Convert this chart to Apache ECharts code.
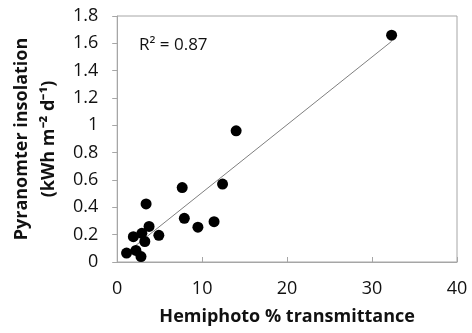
<!DOCTYPE html>
<html>
<head>
<meta charset="utf-8">
<script src="https://cdn.jsdelivr.net/npm/echarts@6/dist/echarts.min.js"></script>
<style>
html, body { margin: 0; padding: 0; background: #fff; }
#chart { width: 472px; height: 333px; }
</style>
</head>
<body>
<div id="chart"></div>
<script>
// hemiphoto transmittance (%) vs pyranometer insolation (kWh m-2 d-1)
var transmittance = [1.1, 2.2, 2.8, 1.9, 2.9, 3.25, 3.75, 3.4, 4.9, 7.65, 7.9, 9.5, 11.4, 12.4, 14.0, 32.3];
var insolation = [0.065, 0.085, 0.04, 0.185, 0.21, 0.15, 0.26, 0.425, 0.195, 0.545, 0.32, 0.255, 0.295, 0.57, 0.96, 1.66];
var r2Label = 'R² = 0.87';

var points = transmittance.map(function (x, i) { return [x, insolation[i]]; });

// least squares trendline over the data range
var n = points.length, sx = 0, sy = 0, sxx = 0, sxy = 0;
points.forEach(function (p) { sx += p[0]; sy += p[1]; sxx += p[0] * p[0]; sxy += p[0] * p[1]; });
var slope = (n * sxy - sx * sy) / (n * sxx - sx * sx);
var icpt = (sy - slope * sx) / n;
var xmin = Math.min.apply(null, transmittance), xmax = Math.max.apply(null, transmittance);
var trend = [[xmin, icpt + slope * xmin], [xmax, icpt + slope * xmax]];

var font = '"Open Sans", sans-serif';
var chart = echarts.init(document.getElementById('chart'));
chart.setOption({
    animation: false,
    grid: {
        left: 115, right: 15, top: 16, bottom: 71,
        show: true, borderColor: '#a6a6a6', borderWidth: 1
    },
    title: {
        text: r2Label, left: 134, top: 32,
        textStyle: { fontFamily: font, fontSize: 17, fontWeight: 'normal', color: '#111' }
    },
    xAxis: {
        type: 'value', min: 0, max: 40, interval: 10,
        name: 'Hemiphoto % transmittance', nameLocation: 'middle', nameGap: 46,
        nameTextStyle: { fontFamily: font, fontSize: 18, fontWeight: 'bold', color: '#111' },
        axisLine: { show: true, lineStyle: { color: '#a6a6a6' } },
        axisTick: { show: true, inside: true, length: 5, lineStyle: { color: '#a6a6a6' } },
        axisLabel: { fontFamily: font, fontSize: 18, color: '#111', margin: 18 },
        splitLine: { show: false }
    },
    yAxis: {
        type: 'value', min: 0, max: 1.8, interval: 0.2,
        name: 'Pyranomter insolation\n(kWh m⁻² d⁻¹)', nameLocation: 'middle', nameGap: 50,
        nameTextStyle: { fontFamily: font, fontSize: 18, fontWeight: 'bold', color: '#111', lineHeight: 27 },
        axisLine: { show: true, lineStyle: { color: '#a6a6a6' } },
        axisTick: { show: true, inside: false, length: 5, lineStyle: { color: '#a6a6a6' } },
        axisLabel: { fontFamily: font, fontSize: 18, color: '#111', margin: 19 },
        splitLine: { show: false }
    },
    series: [
        {
            type: 'line', data: trend, symbol: 'none', silent: true,
            lineStyle: { color: '#7f7f7f', width: 1 }, z: 1
        },
        {
            type: 'scatter', data: points, symbol: 'circle', symbolSize: 11,
            itemStyle: { color: '#000', opacity: 1 }, z: 2
        }
    ]
});
</script>
</body>
</html>
